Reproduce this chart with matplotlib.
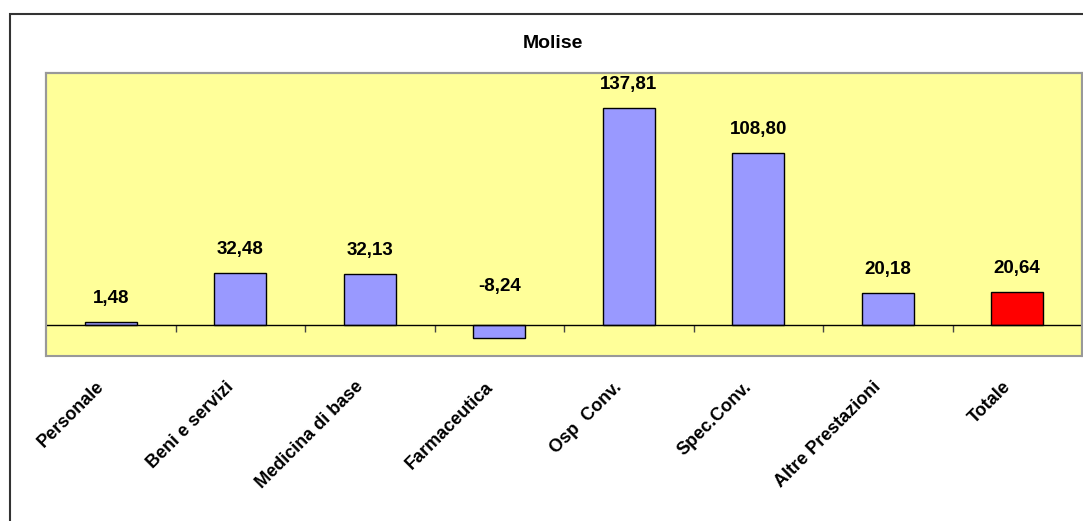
import numpy as np
import matplotlib.pyplot as plt
from matplotlib.patches import Rectangle
import matplotlib.transforms as mtransforms

plt.rcParams['font.family'] = ['Liberation Sans', 'DejaVu Sans']

# data
categorie = ["Personale", "Beni e servizi", "Medicina di base", "Farmaceutica",
             "Osp  Conv.", "Spec.Conv.", "Altre Prestazioni", "Totale"]
valori = [1.48, 32.48, 32.13, -8.24, 137.81, 108.80, 20.18, 20.64]
etichette = ["1,48", "32,48", "32,13", "-8,24", "137,81", "108,80", "20,18", "20,64"]
colori = ["#9999FF"] * 7 + ["#FF0000"]

W, H = 1083, 521
fig = plt.figure(figsize=(W / 100, H / 100), dpi=100)

# outer frame of the chart object
fig.patches.append(Rectangle((10 / W, -0.1), 1.2, (H - 14) / H + 0.1,
                             transform=fig.transFigure, fill=False,
                             edgecolor="#333333", linewidth=1.5))

ax = fig.add_axes([46 / W, (H - 356) / H, 1036 / W, 283 / H])
ax.set_facecolor("#FFFF99")

x = np.arange(len(valori))
ax.bar(x, valori, width=0.4, color=colori, edgecolor="black", linewidth=1.0, zorder=3)

ax.set_xlim(-0.5, len(valori) - 0.5)
ax.set_ylim(-20, 160)
ax.set_yticks([])

# zero axis with ticks between categories
ax.spines['bottom'].set_position(('data', 0))
ax.spines['bottom'].set_color("black")
ax.spines['bottom'].set_linewidth(1.0)
ax.spines['bottom'].set_zorder(4)
for s in ['top', 'left', 'right']:
    ax.spines[s].set_color("#999999")
    ax.spines[s].set_linewidth(1.5)
ax.add_patch(Rectangle((0, 0), 1, 1, transform=ax.transAxes, fill=False,
                       edgecolor="#999999", linewidth=1.5, clip_on=False, zorder=5))
ax.set_xticks(np.arange(0.5, len(valori) - 1, 1.0))
ax.set_xticklabels([])
ax.tick_params(axis='x', direction='out', length=5, width=1, color="#444444")

# value labels
for xi, v, t in zip(x, valori, etichette):
    if v >= 0:
        ax.annotate(t, (xi, v), xytext=(0, 11), textcoords='offset points',
                    ha='center', va='bottom', fontsize=13.5, fontweight='bold')
    else:
        ax.annotate(t, (xi, 0), xytext=(0, 21), textcoords='offset points',
                    ha='center', va='bottom', fontsize=13.5, fontweight='bold')

# category labels
trans = mtransforms.blended_transform_factory(ax.transData, ax.transAxes)
for xi, c in zip(x, categorie):
    ax.text(xi - 0.07, -0.1, c, transform=trans, rotation=45, rotation_mode='anchor',
            ha='right', va='center', fontsize=13, fontweight='bold')

fig.text(553 / W, (H - 44) / H, "Molise", ha='center', va='center',
         fontsize=14, fontweight='bold')

fig.savefig("out.png", dpi=100)
